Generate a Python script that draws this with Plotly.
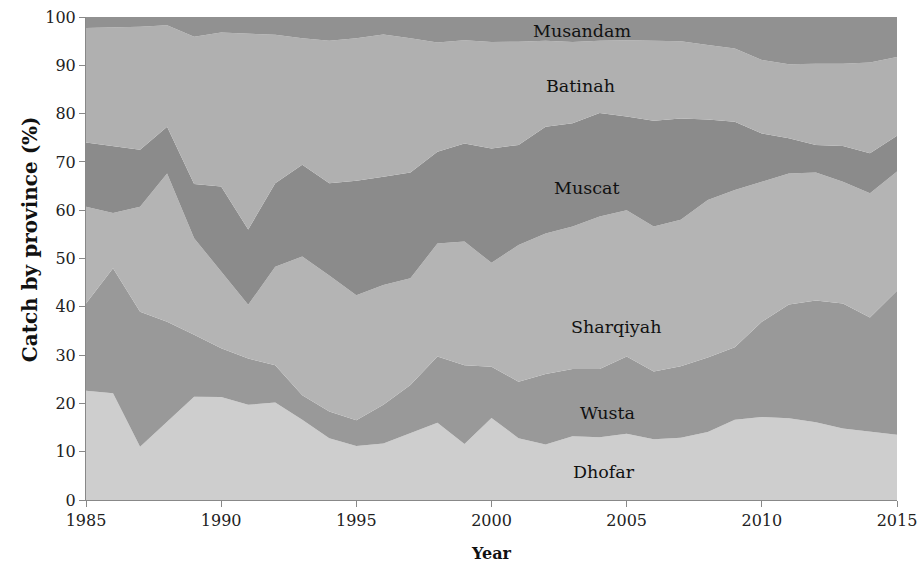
import plotly.graph_objects as go

years = list(range(1985, 2016))

dhofar = [22.6, 22.1, 11.0, 16.2, 21.4, 21.3, 19.7, 20.2, 16.6, 12.8, 11.2, 11.7, 13.8, 16.0, 11.6, 17.0,
          12.8, 11.5, 13.2, 13.0, 13.7, 12.6, 12.9, 14.1, 16.6, 17.2, 16.9, 16.1, 14.8, 14.1, 13.5]
wusta = [18.1, 25.9, 28.0, 20.7, 12.8, 10.1, 9.6, 7.7, 5.1, 5.5, 5.3, 8.0, 10.0, 13.7, 16.3, 10.6,
         11.7, 14.6, 13.9, 14.1, 16.0, 14.0, 14.8, 15.4, 15.0, 19.7, 23.6, 25.2, 25.9, 23.7, 29.8]
sharqiyah = [20.0, 11.4, 21.7, 30.7, 20.0, 15.9, 11.1, 20.4, 28.7, 28.2, 25.9, 24.8, 22.1, 23.4, 25.6, 21.5,
             28.3, 29.1, 29.5, 31.6, 30.3, 30.0, 30.3, 32.6, 32.6, 29.0, 27.1, 26.5, 25.2, 25.7, 24.7]
muscat = [13.3, 13.9, 11.8, 9.7, 11.2, 17.6, 15.6, 17.3, 19.0, 19.1, 23.7, 22.4, 21.9, 19.0, 20.3, 23.7,
          20.7, 22.1, 21.4, 21.4, 19.4, 21.9, 21.0, 16.7, 14.1, 10.0, 7.3, 5.7, 7.4, 8.3, 7.4]
batinah = [23.7, 24.5, 25.5, 21.0, 30.5, 31.9, 40.5, 30.7, 26.2, 29.5, 29.5, 29.5, 27.8, 22.6, 21.4, 22.0,
           21.4, 17.8, 16.8, 15.0, 15.8, 16.6, 16.0, 15.4, 15.2, 15.2, 15.3, 16.8, 17.0, 18.8, 16.3]
musandam = [2.3, 2.2, 2.0, 1.7, 4.1, 3.2, 3.5, 3.7, 4.4, 4.9, 4.4, 3.6, 4.4, 5.3, 4.8, 5.2,
            5.1, 4.9, 5.2, 4.9, 4.8, 4.9, 5.0, 5.8, 6.5, 8.9, 9.8, 9.7, 9.7, 9.4, 8.3]

names = ["Dhofar", "Wusta", "Sharqiyah", "Muscat", "Batinah", "Musandam"]
series = [dhofar, wusta, sharqiyah, muscat, batinah, musandam]
colors = ["#cecece", "#999999", "#b4b4b4", "#8b8b8b", "#b0b0b0", "#919191"]

label_x = [2004.15, 2004.3, 2004.6, 2003.5, 2003.3, 2003.36]
label_y = [5.8, 18.0, 35.8, 64.6, 85.7, 97.0]

x_ticks = [1985, 1990, 1995, 2000, 2005, 2010, 2015]

fig = go.Figure()
for n, s, c in zip(names, series, colors):
    fig.add_trace(go.Scatter(x=years, y=s, name=n, mode="lines", stackgroup="one",
                             line=dict(width=0, color=c), fillcolor=c, hoverinfo="x+y+name"))

font_family = "DejaVu Serif"
for n, lx, ly in zip(names, label_x, label_y):
    fig.add_annotation(x=lx, y=ly, text=n, showarrow=False,
                       font=dict(family=font_family, size=17.5, color="#111"))

# axis titles
fig.add_annotation(xref="paper", yref="paper", x=-0.069, y=0.54, xanchor="center", yanchor="middle",
                   text="<b>Catch by province (%)</b>", textangle=-90, showarrow=False,
                   font=dict(family=font_family, size=20, color="#111"))
fig.add_annotation(xref="paper", yref="paper", x=0.5006, y=-0.11, xanchor="center", yanchor="middle",
                   text="<b>Year</b>", showarrow=False,
                   font=dict(family=font_family, size=16, color="#111"))

fig.update_layout(
    width=919, height=562,
    margin=dict(l=86, r=22, t=17, b=62),
    paper_bgcolor="white", plot_bgcolor="white",
    showlegend=False,
    font=dict(family=font_family, size=16, color="#222"),
)
fig.update_xaxes(range=[1985, 2015], tickvals=x_ticks,
                 ticks="outside", ticklen=6, tickcolor="#888", showline=True, linecolor="#888",
                 showgrid=False, zeroline=False, automargin=False, ticklabeloverflow="allow")
fig.update_yaxes(range=[0, 100], dtick=10, ticks="outside", ticklen=6, tickcolor="#888",
                 showline=True, linecolor="#888", showgrid=False, zeroline=False, automargin=False,
                 ticklabeloverflow="allow")

fig.write_html("out.html", config={"displayModeBar": False},
               post_script="document.body.style.margin='0';document.body.style.overflow='hidden';")
